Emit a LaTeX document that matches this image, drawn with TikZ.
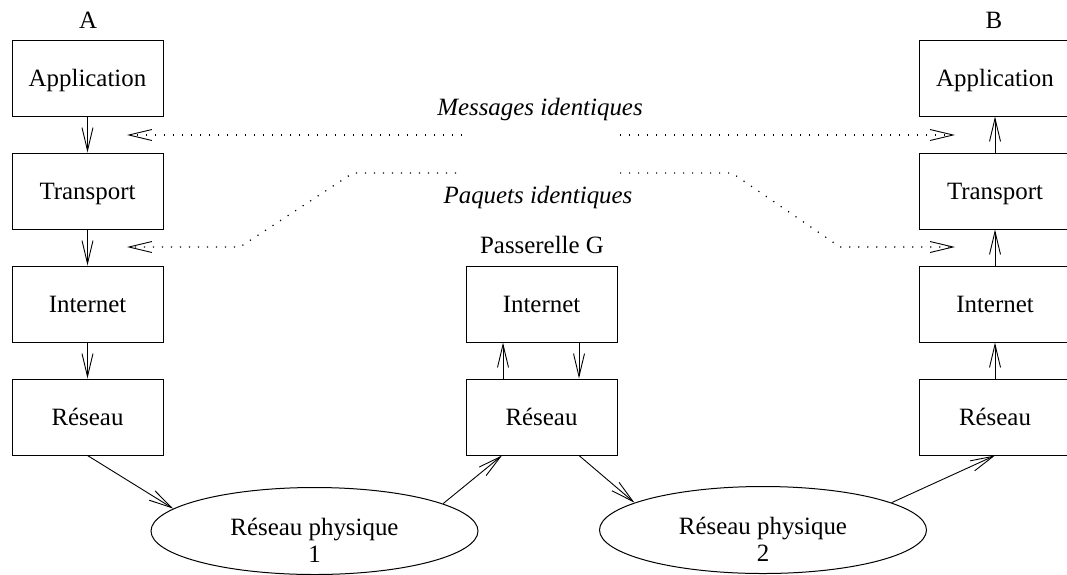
\documentclass[tikz,border=0pt]{standalone}
\usepackage{fontspec}
\setmainfont{Liberation Serif}
\usetikzlibrary{arrows.meta,shapes.geometric}
\newcommand{\twolines}[2]{\raisebox{-4pt}[0pt][0pt]{\begin{tabular}[t]{@{}c@{}}#1\\#2\end{tabular}}}
\begin{document}
\begin{tikzpicture}[x=1pt,y=-1pt,
  every node/.style={font=\fontsize{24.9}{27}\selectfont},
  layer/.style={draw, line width=1pt, minimum width=151pt, minimum height=76pt,
    inner sep=0pt, text height=17pt, text depth=1pt},
  phys/.style={draw, ellipse, line width=1pt, minimum width=327pt,
    minimum height=87pt, inner sep=0pt},
  flow/.style={line width=0.9pt, -{Straight Barb[length=23pt,width=11pt]}},
  peer/.style={line width=1.2pt, dash pattern=on 1.2pt off 7.8pt,
    -{Straight Barb[length=23pt,width=11pt,line width=0.9pt]}},
  tag/.style={anchor=base},
  note/.style={anchor=base, font=\fontsize{24.9}{27}\selectfont\itshape}
]
\useasboundingbox (0,0) rectangle (1067,574);

% host A
\node[tag] (la) at (88,28) {A};
\node[layer] (aapp) at (87.5,78)  {Application};
\node[layer] (atra) at (87.5,191) {Transport};
\node[layer] (aint) at (87.5,304) {Internet};
\node[layer] (ares) at (87.5,417) {Réseau};

% gateway G
\node[tag] (lg) at (542,253) {Passerelle G};
\node[layer] (gint) at (541.5,304) {Internet};
\node[layer] (gres) at (541.5,417) {Réseau};

% host B
\node[tag] (lb) at (994,28) {B};
\node[layer] (bapp) at (995,78)  {Application};
\node[layer] (btra) at (995,191) {Transport};
\node[layer] (bint) at (995,304) {Internet};
\node[layer] (bres) at (995,417) {Réseau};

% physical networks
\node[phys] (p1) at (314.5,531) {\twolines{Réseau physique}{1}};
\node[phys] (p2) at (763,530) {\twolines{Réseau physique}{2}};

% stack traversal
\draw[flow] (aapp) -- (atra);
\draw[flow] (atra) -- (aint);
\draw[flow] (aint) -- (ares);
\draw[flow] (ares.south) -- (p1.171);
\draw[flow] (p1.12) -- ([xshift=-39.5pt]gres.south);
\draw[flow] ([xshift=-38.5pt]gres.north) -- ([xshift=-38.5pt]gint.south);
\draw[flow] ([xshift=37.5pt]gint.south) -- ([xshift=37.5pt]gres.north);
\draw[flow] ([xshift=37.5pt]gres.south) -- (p2.168);
\draw[flow] (p2.12) -- (bres.south);
\draw[flow] (bres) -- (bint);
\draw[flow] (bint) -- (btra);
\draw[flow] (btra) -- (bapp);

% peer-to-peer equivalence
\node[note] (msg) at (540,115) {Messages identiques};
\node[note] (pkt) at (538,203) {Paquets identiques};

\coordinate (m1) at (462,135);
\coordinate (m0) at (127,135);
\coordinate (m2) at (620,135);
\coordinate (m3) at (955,135);
\draw[peer] (m1) -- (m0);
\draw[peer] (m2) -- (m3);

\coordinate (k1) at (456,173);
\coordinate (k1a) at (353,173);
\coordinate (k1b) at (240,247);
\coordinate (k0) at (127,247);
\coordinate (k2) at (620,173);
\coordinate (k2a) at (732,173);
\coordinate (k2b) at (840,247);
\coordinate (k3) at (955,247);
\draw[peer] (k1) -- (k1a) -- (k1b) -- (k0);
\draw[peer] (k2) -- (k2a) -- (k2b) -- (k3);
\end{tikzpicture}
\end{document}
